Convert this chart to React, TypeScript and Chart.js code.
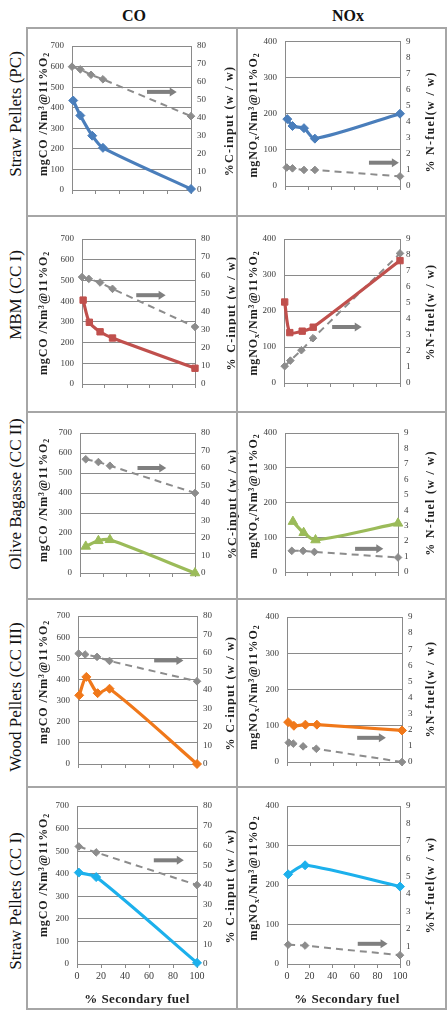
import { useEffect, useRef } from 'react';
import { Chart, registerables } from 'chart.js';

Chart.register(...registerables);

// ---------- labels ----------
const columnHeaders = ['CO', 'NOx'];
const fuelLabels = [
  'Straw Pellets (PC)',
  'MBM (CC I)',
  'Olive Bagasse (CC II)',
  'Wood Pellets (CC III)',
  'Straw Pellets (CC I)',
];
const xAxisTitle = '% Secondary fuel';
const cInputTitles = ['%C-input (w / w)', '% C-input (w / w)', '%C-input (w / w)', '% C-input (w / w)', '% C-input (w / w)'];
const nFuelTitles = ['% N-fuel(w / w)', '%N-fuel(w / w)', '% N-fuel (w / w)', '%N-fuel(w / w)', '%N-fuel(w / w)'];

// ---------- axis ranges [min, max, step] ----------
const secondaryFuelRange = [0, 100, 20];
const coRange = [0, 700, 100];
const cInputRange = [0, 80, 10];
const noxRange = [0, 400, 100];
const nFuelRange = [0, 9, 1];

// ---------- Straw Pellets (PC) ----------
const strawPcCoX = [1, 7, 17, 26, 100];
const strawPcCo = [435, 362, 264, 205, 5];
const strawPcCInX = [0, 7, 16, 26, 100];
const strawPcCIn = [68.5, 67, 64, 61.5, 41];
const strawPcNoxX = [2, 6.5, 16.5, 26, 100];
const strawPcNox = [185, 166, 160, 131, 200];
const strawPcNFuelX = [1.5, 6.5, 16.5, 26, 100];
const strawPcNFuel = [1.15, 1.1, 1.0, 1.0, 0.6];

// ---------- MBM (CC I) ----------
const mbmCoX = [1, 6.5, 16, 27, 100];
const mbmCo = [405, 298, 252, 222, 76];
const mbmCInX = [0, 6, 16, 27, 100];
const mbmCIn = [59, 58, 56, 52.5, 31.5];
const mbmNoxX = [0.6, 5, 15.7, 25.2, 100];
const mbmNox = [225, 140, 144, 155, 340];
const mbmNFuelX = [0.6, 5.5, 15, 25, 100];
const mbmNFuel = [1.05, 1.4, 2.05, 2.8, 8.1];

// ---------- Olive Bagasse (CC II) ----------
const oliveCoX = [5, 16, 26, 100];
const oliveCo = [133, 161, 166, 0];
const oliveCInX = [5, 16, 26, 100];
const oliveCIn = [65, 63.4, 61.3, 45.7];
const oliveNoxX = [7, 16.5, 27, 100];
const oliveNox = [145, 113, 92, 140];
const oliveNFuelX = [6, 16, 26, 100];
const oliveNFuel = [1.37, 1.37, 1.3, 0.94];

// ---------- Wood Pellets (CC III) ----------
const woodCoX = [1, 7, 16.5, 26.5, 100];
const woodCo = [325, 412, 335, 356, 0];
const woodCInX = [0.5, 6, 16, 26.5, 100];
const woodCIn = [59.7, 59.2, 57.9, 55.7, 44.7];
const woodNoxX = [1, 6, 16, 26, 100];
const woodNox = [110, 100, 103, 103, 87];
const woodNFuelX = [1.5, 5.5, 14, 25.5, 100];
const woodNFuel = [1.2, 1.14, 0.97, 0.82, 0];

// ---------- Straw Pellets (CC I) ----------
const strawCcCoX = [1.5, 16, 100];
const strawCcCo = [405, 385, 5];
const strawCcCInX = [1.5, 16, 100];
const strawCcCIn = [59.5, 56.5, 40];
const strawCcNoxX = [1, 16, 100];
const strawCcNox = [227, 250, 196];
const strawCcNFuelX = [1, 16, 100];
const strawCcNFuel = [1.1, 1.05, 0.5];

// ---------- secondary-axis arrows [x from, x to, right-axis value] ----------
const strawPcCoArrow = [63, 88, 54.5];
const strawPcNoxArrow = [73, 99, 1.45];
const mbmCoArrow = [48, 74, 49];
const mbmNoxArrow = [41.5, 67, 3.5];
const oliveCoArrow = [50, 75, 60];
const oliveNoxArrow = [62, 87, 1.5];
const woodCoArrow = [64, 88.6, 56];
const woodNoxArrow = [61, 86, 1.5];
const strawCcCoArrow = [64, 89, 52.5];
const strawCcNoxArrow = [62.6, 89, 1.15];

// ---------- styles ----------
const SERIF = "'Liberation Serif', 'Times New Roman', serif";
const GRID = '#8a8a8a';
const FRAME = '#a6a6a6';
const TICK_TEXT = '#3a3a3a';
const SEC_GRAY = '#8c8c8c';
const ARROW_GRAY = '#7f7f7f';
const rowColors = ['#4a7ebb', '#c0504d', '#9bbb59', '#f0781a', '#1cb0ec'];
const rowMarkers = ['rectRot', 'rect', 'triangle', 'rectRot', 'rectRot'];
const rowMarkerSize = [4.5, 4.5, 5.5, 4.5, 4.5];

type PanelData = {
  mainX: number[];
  main: number[];
  secX: number[];
  sec: number[];
  arrow: number[];
};

const panelData: PanelData[][] = [
  [
    { mainX: strawPcCoX, main: strawPcCo, secX: strawPcCInX, sec: strawPcCIn, arrow: strawPcCoArrow },
    { mainX: strawPcNoxX, main: strawPcNox, secX: strawPcNFuelX, sec: strawPcNFuel, arrow: strawPcNoxArrow },
  ],
  [
    { mainX: mbmCoX, main: mbmCo, secX: mbmCInX, sec: mbmCIn, arrow: mbmCoArrow },
    { mainX: mbmNoxX, main: mbmNox, secX: mbmNFuelX, sec: mbmNFuel, arrow: mbmNoxArrow },
  ],
  [
    { mainX: oliveCoX, main: oliveCo, secX: oliveCInX, sec: oliveCIn, arrow: oliveCoArrow },
    { mainX: oliveNoxX, main: oliveNox, secX: oliveNFuelX, sec: oliveNFuel, arrow: oliveNoxArrow },
  ],
  [
    { mainX: woodCoX, main: woodCo, secX: woodCInX, sec: woodCIn, arrow: woodCoArrow },
    { mainX: woodNoxX, main: woodNox, secX: woodNFuelX, sec: woodNFuel, arrow: woodNoxArrow },
  ],
  [
    { mainX: strawCcCoX, main: strawCcCo, secX: strawCcCInX, sec: strawCcCIn, arrow: strawCcCoArrow },
    { mainX: strawCcNoxX, main: strawCcNox, secX: strawCcNFuelX, sec: strawCcNFuel, arrow: strawCcNoxArrow },
  ],
];

// ---------- page layout (px) ----------
const rowEdges = [28, 216, 412, 599, 787, 1009];
const colEdges = [27, 237, 446];
// plot area of each panel: [left, top, right, bottom]
const plotBoxes = [
  [[72, 46, 191, 190], [285, 36, 400, 186]],
  [[82, 239, 195, 384], [284, 239, 400, 383]],
  [[80, 433, 195, 573], [285, 433, 398, 572]],
  [[78, 616, 197, 764], [287, 617, 402, 762]],
  [[77, 806, 197, 964], [287, 806, 400, 964]],
];
// axis-title centres: [left x, left y, right x, right y]
const titleSpots = [
  [[43, 114, 229, 121], [253, 115, 430, 122]],
  [[43, 313, 231, 313], [253, 313, 430, 312]],
  [[43, 500, 232, 504], [253, 496, 430, 503]],
  [[43, 682, 230, 693], [253, 687, 430, 689]],
  [[43, 875, 230, 886], [253, 878, 430, 885]],
];
const rowLabelSpots = [[15, 114], [15, 295], [15, 494], [15, 697], [15, 901]];
const headerSpots = [[134, 16], [348, 16]];
const xTitleSpots = [[137, 998], [347, 998]];

const pts = (xs: number[], ys: number[]) => xs.map((x, i) => ({ x, y: ys[i] }));

// draws the grey arrow pointing at the secondary axis
const axisArrowPlugin = {
  id: 'axisArrow',
  afterDatasetsDraw(chart: any, _args: any, opts: any) {
    const a = opts.arrow as number[];
    if (!a) return;
    const xs = chart.scales.x;
    const ys = chart.scales.y1;
    const x0 = xs.getPixelForValue(a[0]);
    const x1 = xs.getPixelForValue(a[1]);
    const y = ys.getPixelForValue(a[2]);
    const ctx = chart.ctx as CanvasRenderingContext2D;
    const head = 7;
    ctx.save();
    ctx.strokeStyle = ARROW_GRAY;
    ctx.fillStyle = ARROW_GRAY;
    ctx.lineWidth = 4;
    ctx.beginPath();
    ctx.moveTo(x0, y);
    ctx.lineTo(x1 - head + 1, y);
    ctx.stroke();
    ctx.beginPath();
    ctx.moveTo(x1, y);
    ctx.lineTo(x1 - head, y - 4.5);
    ctx.lineTo(x1 - head, y + 4.5);
    ctx.closePath();
    ctx.fill();
    ctx.restore();
  },
};

type PanelProps = { row: number; col: number };

function Panel({ row, col }: PanelProps) {
  const ref = useRef<HTMLCanvasElement>(null);
  const cl = colEdges[col];
  const cr = colEdges[col + 1];
  const ct = rowEdges[row];
  const cb = rowEdges[row + 1];
  const [pl, pt, pr, pb] = plotBoxes[row][col];
  const isCo = col === 0;
  const lastRow = row === rowEdges.length - 2;

  useEffect(() => {
    const d = panelData[row][col];
    const color = rowColors[row];
    const leftRange = isCo ? coRange : noxRange;
    const rightRange = isCo ? cInputRange : nFuelRange;
    const tickFont = { family: SERIF, size: 9 };
    const chart = new Chart(ref.current as HTMLCanvasElement, {
      type: 'line',
      data: {
        datasets: [
          {
            data: pts(d.mainX, d.main),
            yAxisID: 'y',
            borderColor: color,
            backgroundColor: color,
            borderWidth: 3.2,
            pointStyle: rowMarkers[row] as any,
            pointRadius: rowMarkerSize[row],
            pointBorderWidth: 1,
            tension: 0.25,
            clip: false as any,
            order: 1,
          },
          {
            data: pts(d.secX, d.sec),
            yAxisID: 'y1',
            borderColor: SEC_GRAY,
            backgroundColor: SEC_GRAY,
            borderWidth: 2,
            borderDash: [7, 5],
            pointStyle: 'rectRot',
            pointRadius: 3.8,
            pointBorderWidth: 1,
            tension: 0,
            clip: false as any,
            order: 2,
          },
        ],
      },
      options: {
        responsive: false,
        animation: false,
        events: [],
        layout: { padding: { top: pt - ct, left: 0, right: 0, bottom: 0 } },
        plugins: {
          legend: { display: false },
          tooltip: { enabled: false },
          axisArrow: { arrow: d.arrow },
        } as any,
        scales: {
          x: {
            type: 'linear',
            min: secondaryFuelRange[0],
            max: secondaryFuelRange[1],
            ticks: { stepSize: secondaryFuelRange[2], display: lastRow, padding: 2, font: { family: SERIF, size: 10 }, color: TICK_TEXT },
            grid: { drawOnChartArea: false, drawTicks: true, tickLength: 4, color: GRID },
            border: { display: true, color: GRID },
            afterFit: (s: any) => { s.height = cb - pb; },
          },
          y: {
            position: 'left',
            min: leftRange[0],
            max: leftRange[1],
            ticks: { stepSize: leftRange[2], padding: 8, font: tickFont, color: TICK_TEXT },
            grid: { color: GRID, drawTicks: false },
            border: { display: true, color: GRID },
            afterFit: (s: any) => { s.width = pl - cl; },
          },
          y1: {
            position: 'right',
            min: rightRange[0],
            max: rightRange[1],
            ticks: { stepSize: rightRange[2], padding: 6, font: tickFont, color: TICK_TEXT },
            grid: { drawOnChartArea: false, drawTicks: false },
            border: { display: true, color: GRID },
            afterFit: (s: any) => { s.width = cr - pr; },
          },
        } as any,
      },
      plugins: [axisArrowPlugin],
    });
    return () => chart.destroy();
  }, [row, col]);

  return (
    <canvas
      ref={ref}
      width={cr - cl}
      height={cb - ct}
      style={{ position: 'absolute', left: cl, top: ct, width: cr - cl, height: cb - ct }}
    />
  );
}

function Rotated({ x, y, children, style }: { x: number; y: number; children: any; style?: any }) {
  return (
    <div
      style={{
        position: 'absolute',
        left: x,
        top: y,
        transform: 'translate(-50%, -50%) rotate(-90deg)',
        whiteSpace: 'nowrap',
        fontFamily: SERIF,
        lineHeight: 1,
        ...style,
      }}
    >
      {children}
    </div>
  );
}

const supStyle = { fontSize: '0.65em', verticalAlign: '0.45em', lineHeight: 0 };
const subStyle = { fontSize: '0.65em', verticalAlign: '-0.2em', lineHeight: 0 };

function CoUnits() {
  return (
    <span>
      mgCO /Nm<span style={supStyle}>3</span>@11%O<span style={subStyle}>2</span>
    </span>
  );
}

function NoxUnits() {
  return (
    <span>
      mgNO<span style={subStyle}>x</span>/Nm<span style={supStyle}>3</span>@11%O<span style={subStyle}>2</span>
    </span>
  );
}

export default function App() {
  const axisTitleStyle = { fontSize: 12, fontWeight: 700, color: '#1e1e1e', letterSpacing: '0.9px' };
  const rightTitleStyle = { fontSize: 12, fontWeight: 700, color: '#1e1e1e', letterSpacing: '1.3px' };
  const frameLines = [];
  rowEdges.forEach((y, i) => {
    frameLines.push(
      <div key={'h' + i} style={{ position: 'absolute', left: colEdges[0] - 1, top: y - 1, width: colEdges[2] - colEdges[0] + 2, height: 2, background: FRAME }} />
    );
  });
  colEdges.forEach((x, i) => {
    frameLines.push(
      <div key={'v' + i} style={{ position: 'absolute', left: x - 1, top: rowEdges[0] - 1, width: 2, height: rowEdges[5] - rowEdges[0] + 2, background: FRAME }} />
    );
  });

  return (
    <div style={{ position: 'absolute', left: 0, top: 0, width: 447, height: 1017, background: '#fff', overflow: 'hidden' }}>
      {columnHeaders.map((h, i) => (
        <div
          key={h}
          style={{
            position: 'absolute',
            left: headerSpots[i][0],
            top: headerSpots[i][1],
            transform: 'translate(-50%, -50%)',
            fontFamily: SERIF,
            fontWeight: 700,
            fontSize: 16,
            lineHeight: 1,
            color: '#111',
          }}
        >
          {h}
        </div>
      ))}

      {fuelLabels.map((label, r) => (
        <Rotated key={label + r} x={rowLabelSpots[r][0]} y={rowLabelSpots[r][1]} style={{ fontSize: 17, color: '#111' }}>
          {label}
        </Rotated>
      ))}

      {panelData.map((_, r) =>
        [0, 1].map((c) => <Panel key={r + '-' + c} row={r} col={c} />)
      )}

      {titleSpots.map((row, r) =>
        row.map((t, c) => (
          <div key={'t' + r + c}>
            <Rotated x={t[0]} y={t[1]} style={axisTitleStyle}>
              {c === 0 ? <CoUnits /> : <NoxUnits />}
            </Rotated>
            <Rotated x={t[2]} y={t[3]} style={rightTitleStyle}>
              {c === 0 ? cInputTitles[r] : nFuelTitles[r]}
            </Rotated>
          </div>
        ))
      )}

      {xTitleSpots.map((p, i) => (
        <div
          key={'xt' + i}
          style={{
            position: 'absolute',
            left: p[0],
            top: p[1],
            transform: 'translate(-50%, -50%)',
            fontFamily: SERIF,
            fontWeight: 700,
            fontSize: 13,
            letterSpacing: '0.4px',
            lineHeight: 1,
            whiteSpace: 'nowrap',
            color: '#1e1e1e',
          }}
        >
          {xAxisTitle}
        </div>
      ))}

      {frameLines}
    </div>
  );
}
